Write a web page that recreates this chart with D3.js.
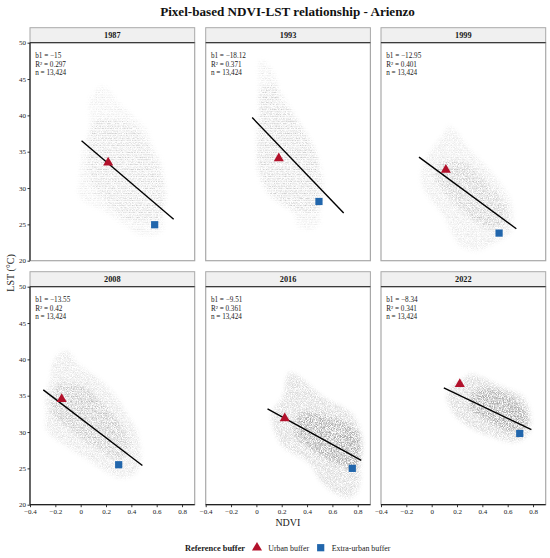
<!DOCTYPE html>
<html><head><meta charset="utf-8">
<script src="https://cdn.jsdelivr.net/npm/d3@7"></script>
<style>
html,body{margin:0;padding:0;background:#fff;}
text{font-family:"Liberation Serif","DejaVu Serif",serif;}
</style></head>
<body><svg id="c" width="550" height="558"></svg>
<script>
// ---------------- data ----------------
const years   = ["1987","1993","1999","2008","2016","2022"];
const slopes  = [-15, -18.12, -12.95, -13.55, -9.51, -8.34];
const rSq     = [0.297, 0.371, 0.401, 0.42, 0.361, 0.341];
const nObs    = [13424, 13424, 13424, 13424, 13424, 13424];
const lineStart = [[0.007,36.5],[-0.033,39.7],[-0.10,34.25],[-0.295,35.8],[0.088,33.2],[0.096,36.07]];
const lineEnd   = [[0.734,25.7],[0.689,26.55],[0.668,24.4],[0.487,25.4],[0.828,26.1],[0.787,30.33]];
const urbanPts  = [[0.217,33.5],[0.177,34.1],[0.112,32.5],[-0.15,34.55],[0.224,31.9],[0.222,36.6]];
const extraPts  = [[0.584,24.95],[0.494,28.15],[0.532,23.8],[0.30,25.5],[0.757,25.0],[0.695,29.8]];
// envelopes of the pixel clouds (NDVI, LST), outer extent and dense core
const cloudOuter = [
 [[0.17,44],[0.23,43.5],[0.28,42.1],[0.39,40.3],[0.52,38],[0.57,35.7],[0.64,33.4],[0.66,31.1],[0.68,28.8],[0.65,26.6],[0.65,24.3],[0.58,23.4],[0.45,23.6],[0.39,24.3],[0.2,26.6],[-0.01,28.8],[-0.01,31.1],[0.0,33.4],[0.02,35.7],[0.07,38],[0.07,40.3],[0.07,42.1],[0.12,43.5]],
 [[0.03,47.6],[0.09,47],[0.16,44.9],[0.18,42.1],[0.29,40.3],[0.37,38],[0.45,35.7],[0.5,33.4],[0.53,31.1],[0.53,28.8],[0.5,26.6],[0.5,25.2],[0.44,24.4],[0.34,24.6],[0.29,26.6],[0.11,28.8],[0.03,31.1],[0.0,33.4],[0.0,35.7],[0.0,38],[0.03,40.3],[0.02,42.1],[0.02,44.9]],
 [[0.13,38.5],[0.18,38],[0.3,35.3],[0.43,33],[0.54,30.7],[0.62,28.4],[0.64,26.1],[0.62,23.8],[0.45,22],[0.35,21.4],[0.23,22],[0.16,23.8],[0.1,26.1],[-0.01,28.4],[-0.08,30.7],[-0.07,33],[0.0,35.3],[0.1,37.5]],
 [[-0.13,41.2],[-0.08,40.8],[-0.03,39.5],[0.15,37.2],[0.28,34.9],[0.36,32.6],[0.44,30.3],[0.47,28],[0.47,25.7],[0.42,24.1],[0.32,23.7],[0.22,24.3],[0.1,25.7],[-0.11,28],[-0.27,30.3],[-0.27,32.6],[-0.28,34.9],[-0.24,37.2],[-0.22,39.5],[-0.17,40.8]],
 [[0.26,38.2],[0.34,37.6],[0.52,34.9],[0.75,32.6],[0.82,30.3],[0.84,28],[0.82,25.7],[0.82,23.4],[0.79,21.6],[0.72,20.9],[0.62,21.6],[0.5,23.4],[0.42,25.7],[0.21,28],[0.14,30.3],[0.12,32.6],[0.21,34.9],[0.24,37.6]],
 [[0.3,38],[0.38,37.6],[0.56,36.2],[0.72,34.9],[0.78,32.6],[0.78,30.7],[0.75,29.4],[0.65,28.6],[0.5,29.2],[0.3,30.7],[0.17,32.6],[0.12,34.9],[0.15,36.2],[0.275,37.6]]
];
const cloudCore = [
 [[0.1,39],[0.39,39],[0.54,35.7],[0.65,31.1],[0.65,27.5],[0.62,25.7],[0.39,25.7],[0.23,27.5],[0.07,31.1],[0.07,35.7]],
 [[0.05,44],[0.15,44],[0.3,40],[0.45,35.7],[0.5,31],[0.48,27],[0.3,27],[0.12,29],[0.03,32],[0.02,38]],
 [[0.08,33.5],[0.25,33.5],[0.45,30.5],[0.58,27.5],[0.58,25],[0.45,24.5],[0.3,26],[0.1,29.5],[0.03,31.5]],
 [[-0.18,36.5],[0.0,36.5],[0.2,33.5],[0.35,30],[0.38,27.5],[0.3,26.3],[0.15,27.5],[-0.05,30],[-0.22,32.5],[-0.22,35]],
 [[0.35,32.5],[0.6,32],[0.8,30],[0.82,27],[0.78,25],[0.65,25.5],[0.45,27.5],[0.3,30]],
 [[0.35,35.8],[0.55,35.5],[0.72,33.5],[0.75,31],[0.65,30],[0.45,31.5],[0.3,33.5]]
];
const xTicks = [-0.4,-0.2,0,0.2,0.4,0.6,0.8];
const yTicks = [20,25,30,35,40,45,50];
const xDomain = [-0.4, 0.9];
const yDomain = [20, 50];
const titleText = "Pixel-based NDVI-LST relationship - Arienzo";
const xTitle = "NDVI", yTitle = "LST (°C)";
const legendTitle = "Reference buffer";
const legendLabels = ["Urban buffer","Extra-urban buffer"];

// ---------------- layout / style ----------------
const svg = d3.select("#c");
const colX = [30, 205.7, 381], rowY = [42.7, 286.7];
const pw = 164.7, ph = 218, stripH = 15;
const red = "#b2112b", blue = "#2166ac";
const outerOp = [0.09,0.10,0.10,0.12,0.14,0.15];
const coreOp  = [0.11,0.12,0.15,0.16,0.22,0.22];
const stripeOp = [0.85,0.85,0.5,0.4,0,0];

const defs = svg.append("defs");
const f = defs.append("filter").attr("id","speck").attr("x","-20%").attr("y","-20%")
  .attr("width","140%").attr("height","140%").attr("color-interpolation-filters","sRGB");
f.append("feGaussianBlur").attr("in","SourceGraphic").attr("stdDeviation",2.2).attr("result","b");
f.append("feTurbulence").attr("type","fractalNoise").attr("baseFrequency",1.2).attr("numOctaves",1).attr("seed",4).attr("result","n");
f.append("feColorMatrix").attr("in","n").attr("type","matrix")
  .attr("values","0 0 0 0 0  0 0 0 0 0  0 0 0 0 0  3 0 0 0 -1.0").attr("result","m");
f.append("feComposite").attr("in","b").attr("in2","m").attr("operator","in");
const pat = defs.append("pattern").attr("id","stripes").attr("patternUnits","userSpaceOnUse")
  .attr("width", 6).attr("height", 2.4);
pat.append("rect").attr("width", 6).attr("height", 1.3).attr("fill", "#fff");

const x = d3.scaleLinear().domain(xDomain).range([0, pw]);
const y = d3.scaleLinear().domain(yDomain).range([ph, 0]);
const fmt = d => d === 0 ? "0" : (d < 0 ? "\u2212" : "") + Math.abs(d).toFixed(1);
const triangle = d3.symbol().type(d3.symbolTriangle).size(44);
const square = d3.symbol().type(d3.symbolSquare).size(52);
const closed = d3.line().x(d => x(d[0])).y(d => y(d[1])).curve(d3.curveCatmullRomClosed.alpha(0.5));

// title
const t = svg.append("text").attr("x", 287.5).attr("y", 16).attr("text-anchor","middle")
  .attr("font-weight","bold").attr("font-size", 14).attr("fill","#111").text(titleText);
{ const w = t.node().getComputedTextLength(); t.attr("font-size", 14 * 255 / w); }

years.forEach((yr, i) => {
  const c = i % 3, r = Math.floor(i / 3);
  const g = svg.append("g").attr("transform", `translate(${colX[c]},${rowY[r]})`);
  // strip
  g.append("rect").attr("x", 0).attr("y", -stripH).attr("width", pw).attr("height", stripH)
    .attr("fill", "#f0f0f0").attr("stroke", "#a8a8a8").attr("stroke-width", 1);
  g.append("text").attr("x", pw/2).attr("y", -4.6).attr("text-anchor","middle")
    .attr("font-weight","bold").attr("font-size", 8.3).attr("fill","#1a1a1a").text(yr);
  // panel
  g.append("rect").attr("width", pw).attr("height", ph).attr("fill", "#fff");
  const cl = g.append("g").attr("filter", "url(#speck)");
  cl.append("path").attr("d", closed(cloudOuter[i])).attr("fill", "#000").attr("fill-opacity", outerOp[i]);
  cl.append("path").attr("d", closed(cloudCore[i])).attr("fill", "#000").attr("fill-opacity", coreOp[i]);
  if (stripeOp[i] > 0)
    g.append("rect").attr("width", pw).attr("height", ph).attr("fill", "url(#stripes)").attr("opacity", stripeOp[i]);
  // regression line
  g.append("line").attr("x1", x(lineStart[i][0])).attr("y1", y(lineStart[i][1]))
    .attr("x2", x(lineEnd[i][0])).attr("y2", y(lineEnd[i][1]))
    .attr("stroke", "#000").attr("stroke-width", 1.4);
  g.append("path").attr("d", triangle).attr("fill", red)
    .attr("transform", `translate(${x(urbanPts[i][0])},${y(urbanPts[i][1])})`);
  g.append("path").attr("d", square).attr("fill", blue)
    .attr("transform", `translate(${x(extraPts[i][0])},${y(extraPts[i][1])})`);
  // annotation
  const ann = [`b1 = ${fmt2(slopes[i])}`, `R² = ${rSq[i]}`, `n = ${d3.format(",")(nObs[i])}`];
  ann.forEach((s, k) => g.append("text").attr("x", 5.2).attr("y", 15.8 + k * 8.4)
    .attr("font-size", 7.2).attr("fill", "#1a1a1a").text(s));
  // border
  g.append("rect").attr("width", pw).attr("height", ph).attr("fill", "none")
    .attr("stroke", "#a8a8a8").attr("stroke-width", 1.2);
  g.append("line").attr("x1", 0).attr("x2", pw).attr("y1", 0).attr("y2", 0)
    .attr("stroke", "#222").attr("stroke-width", 1);
  if (c === 0) {
    const ax = g.append("g").call(d3.axisLeft(y).tickValues(yTicks).tickSize(2.5).tickPadding(1.5));
    ax.select(".domain").remove();
    ax.selectAll("text").attr("font-size", 7).attr("fill", "#222").style("font-family", "Liberation Serif");
    ax.selectAll("line").attr("stroke", "#333");
    g.append("line").attr("x1", 0).attr("x2", 0).attr("y1", 0).attr("y2", ph).attr("stroke", "#222").attr("stroke-width", 1.2);
  }
  if (r === 1) {
    const ax = g.append("g").attr("transform", `translate(0,${ph})`)
      .call(d3.axisBottom(x).tickValues(xTicks).tickFormat(fmt).tickSize(2.5).tickPadding(1.5));
    ax.select(".domain").remove();
    ax.selectAll("text").attr("font-size", 7).attr("fill", "#222").style("font-family", "Liberation Serif");
    ax.selectAll("line").attr("stroke", "#333");
    g.append("line").attr("x1", 0).attr("x2", pw).attr("y1", ph).attr("y2", ph).attr("stroke", "#222").attr("stroke-width", 1.2);
  }
});
function fmt2(v) { return (v < 0 ? "\u2212" : "") + Math.abs(v); }

// axis titles
svg.append("text").attr("x", 287.9).attr("y", 526).attr("text-anchor","middle")
  .attr("font-size", 10).attr("fill","#1a1a1a").text(xTitle);
svg.append("text").attr("transform", "translate(14,273) rotate(-90)").attr("text-anchor","middle")
  .attr("font-size", 10).attr("fill","#1a1a1a").text(yTitle);

// legend
const ly = 547.7;
svg.append("text").attr("x", 185).attr("y", ly + 3).attr("font-weight","bold").attr("font-size", 8.4)
  .attr("fill","#1a1a1a").text(legendTitle);
svg.append("path").attr("d", triangle).attr("fill", red).attr("transform", `translate(257,${ly})`);
svg.append("text").attr("x", 268.3).attr("y", ly + 3).attr("font-size", 7.9).attr("fill","#1a1a1a").text(legendLabels[0]);
svg.append("path").attr("d", square).attr("fill", blue).attr("transform", `translate(320.7,${ly})`);
svg.append("text").attr("x", 331.7).attr("y", ly + 3).attr("font-size", 7.9).attr("fill","#1a1a1a").text(legendLabels[1]);
</script></body></html>
